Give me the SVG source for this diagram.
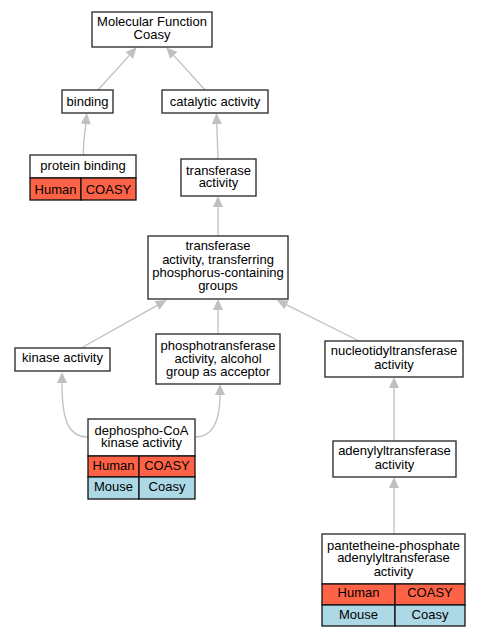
<svg xmlns="http://www.w3.org/2000/svg" width="480" height="637" viewBox="0 0 480 637">
<defs>
<marker id="ah" markerUnits="userSpaceOnUse" markerWidth="12" markerHeight="10" refX="0" refY="5" orient="auto" overflow="visible">
<path d="M0,0 L11,5 L0,10 z" fill="#c0c0c0"/>
</marker>
<style>
text{font-family:"Liberation Sans",Arial,sans-serif;font-size:13px;fill:#000;text-anchor:middle}
.n{fill:#fff;stroke:#333;stroke-width:1.4}
.h{fill:#ff6347;stroke:#111;stroke-width:1.3}
.m{fill:#add8e6;stroke:#111;stroke-width:1.3}
.e{fill:none;stroke:#c0c0c0;stroke-width:1.3;marker-end:url(#ah)}
</style>
</defs>
<rect width="480" height="637" fill="#fff"/>
<g id="edges">
<path class="e" d="M98,90 L129.3,55.4"/>
<path class="e" d="M205,90 L173.7,55.4"/>
<path class="e" d="M83.3,155 C83.3,142 85,132 85.8,124"/>
<path class="e" d="M218,159 L216.8,124"/>
<path class="e" d="M218,236 L218,207"/>
<path class="e" d="M83,347 L157.1,305.4"/>
<path class="e" d="M218,334 L218,310"/>
<path class="e" d="M359,341 L286.6,304.9"/>
<path class="e" d="M88,437 C68,437 62,420 62,383"/>
<path class="e" d="M195,437 C214,437 220,420 220,395"/>
<path class="e" d="M394,441 L394,388"/>
<path class="e" d="M394,534 L394,488"/>
</g>
<g id="mf">
<rect class="n" x="92" y="12" width="120" height="35"/>
<text x="152" y="26">Molecular Function</text>
<text x="152" y="39">Coasy</text>
</g>
<g id="binding">
<rect class="n" x="62" y="90" width="51" height="23"/>
<text x="87.5" y="105.5">binding</text>
</g>
<g id="catalytic">
<rect class="n" x="162" y="90" width="106" height="23"/>
<text x="215" y="105.5">catalytic activity</text>
</g>
<g id="protein-binding">
<rect class="n" x="30" y="155" width="106" height="23"/>
<text x="83" y="170">protein binding</text>
<rect class="h" x="30" y="178" width="51" height="22"/>
<rect class="h" x="81" y="178" width="55" height="22"/>
<text x="55.5" y="193.5">Human</text>
<text x="108.5" y="193.5">COASY</text>
</g>
<g id="transferase">
<rect class="n" x="181" y="159" width="75" height="37"/>
<text x="218.5" y="174.5">transferase</text>
<text x="218.5" y="187">activity</text>
</g>
<g id="transferring">
<rect class="n" x="148" y="236" width="140" height="63"/>
<text x="218" y="250">transferase</text>
<text x="218" y="263.5">activity, transferring</text>
<text x="218" y="277">phosphorus-containing</text>
<text x="218" y="290">groups</text>
</g>
<g id="kinase">
<rect class="n" x="15" y="348" width="95" height="23"/>
<text x="62.5" y="362">kinase activity</text>
</g>
<g id="phospho">
<rect class="n" x="156" y="334" width="124" height="50"/>
<text x="218" y="349.5">phosphotransferase</text>
<text x="218" y="362.5">activity, alcohol</text>
<text x="218" y="375.5">group as acceptor</text>
</g>
<g id="nucleotidyl">
<rect class="n" x="325" y="341" width="138" height="36"/>
<text x="394" y="355">nucleotidyltransferase</text>
<text x="394" y="369">activity</text>
</g>
<g id="dephospho">
<rect class="n" x="88" y="419" width="107" height="37"/>
<text x="141.5" y="434.5">dephospho-CoA</text>
<text x="141.5" y="447">kinase activity</text>
<rect class="h" x="88" y="456" width="51" height="21"/>
<rect class="h" x="139" y="456" width="56" height="21"/>
<rect class="m" x="88" y="477" width="51" height="22"/>
<rect class="m" x="139" y="477" width="56" height="22"/>
<text x="113.5" y="469.5">Human</text>
<text x="167" y="469.5">COASY</text>
<text x="113.5" y="491">Mouse</text>
<text x="167" y="491">Coasy</text>
</g>
<g id="adenylyl">
<rect class="n" x="333" y="441" width="123" height="36"/>
<text x="394.5" y="455">adenylyltransferase</text>
<text x="394.5" y="469">activity</text>
</g>
<g id="pantetheine">
<rect class="n" x="322" y="534" width="143" height="50"/>
<text x="393.5" y="549.5">pantetheine-phosphate</text>
<text x="393.5" y="562">adenylyltransferase</text>
<text x="393.5" y="575.5">activity</text>
<rect class="h" x="322" y="584" width="73" height="21"/>
<rect class="h" x="395" y="584" width="70" height="21"/>
<rect class="m" x="322" y="605" width="73" height="21"/>
<rect class="m" x="395" y="605" width="70" height="21"/>
<text x="358.5" y="597">Human</text>
<text x="430" y="597">COASY</text>
<text x="358.5" y="619">Mouse</text>
<text x="430" y="619">Coasy</text>
</g>
</svg>
